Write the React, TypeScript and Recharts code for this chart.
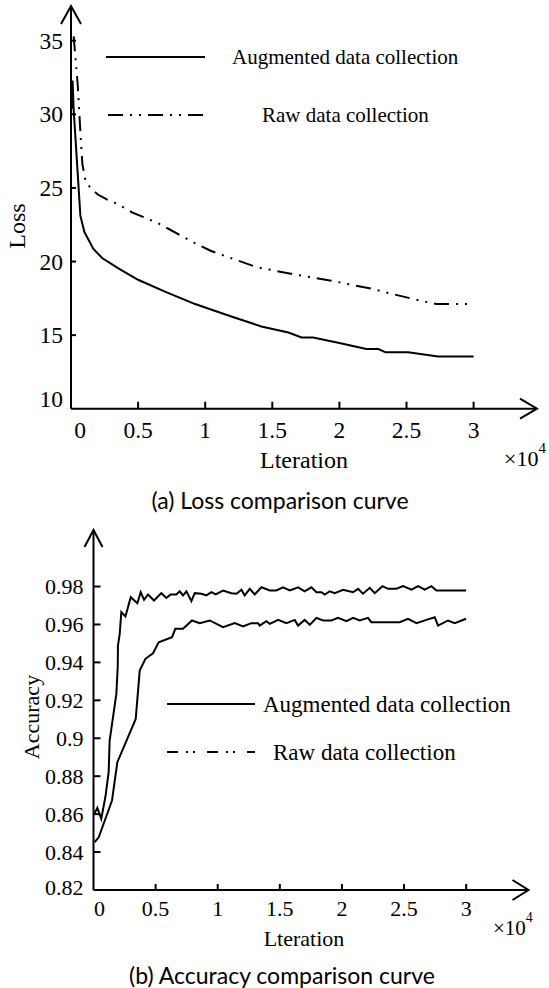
import React from 'react';
import { LineChart, Line, XAxis, YAxis, ReferenceDot } from 'recharts';

// ---------- data ----------
const seriesNames = ['Augmented data collection', 'Raw data collection'];
const xTicks = [0, 0.5, 1, 1.5, 2, 2.5, 3];
const lossTicks = [10, 15, 20, 25, 30, 35];
const accTicks = [0.82, 0.84, 0.86, 0.88, 0.9, 0.92, 0.94, 0.96, 0.98];

// iteration (x10^4), loss
const augmentedLoss: [number, number][] = [
  [0.005, 30.4], [0.012, 32.3], [0.02, 30.3], [0.07, 23.1], [0.1, 22.0], [0.167, 20.85],
  [0.232, 20.24], [0.35, 19.55], [0.5, 18.76], [0.7, 17.95], [0.925, 17.11], [1.0, 16.88],
  [1.2, 16.25], [1.418, 15.59], [1.62, 15.18], [1.718, 14.84], [1.804, 14.84], [2.0, 14.46],
  [2.2, 14.05], [2.291, 14.05], [2.344, 13.83], [2.513, 13.83], [2.735, 13.55], [3.0, 13.55],
];
const rawLoss: [number, number][] = [
  [0.02, 35.3], [0.05, 32.0], [0.075, 28.0], [0.085, 26.6], [0.11, 25.4], [0.155, 24.9],
  [0.2, 24.55], [0.27, 24.2], [0.35, 23.9], [0.454, 23.34], [0.636, 22.66], [0.753, 22.09],
  [0.936, 21.19], [1.04, 20.73], [1.249, 20.05], [1.39, 19.6], [1.588, 19.26], [1.718, 19.04],
  [1.94, 18.7], [2.057, 18.48], [2.252, 18.13], [2.396, 17.79], [2.604, 17.34], [2.722, 17.11],
  [3.0, 17.11],
];

// iteration (x10^4), accuracy
const augmentedAcc: [number, number][] = [
  [0.01, 0.8605], [0.031, 0.8633], [0.0625, 0.8575], [0.0956, 0.869], [0.122, 0.8821],
  [0.13, 0.8988], [0.184, 0.9234], [0.195, 0.9375], [0.197, 0.9489], [0.211, 0.955],
  [0.224, 0.9665], [0.257, 0.9642], [0.3, 0.9744], [0.353, 0.9712], [0.38, 0.977],
  [0.407, 0.973], [0.439, 0.9758], [0.487, 0.9726], [0.546, 0.9765], [0.587, 0.974],
  [0.621, 0.9758], [0.667, 0.9758], [0.694, 0.9775], [0.721, 0.9753], [0.748, 0.9775],
  [0.788, 0.9723], [0.815, 0.9765], [0.869, 0.9762], [0.909, 0.9753], [0.949, 0.977],
  [0.984, 0.9758], [1.043, 0.9779], [1.11, 0.9765], [1.151, 0.9762], [1.191, 0.9783],
  [1.217, 0.9753], [1.258, 0.9788], [1.298, 0.9758], [1.352, 0.9796], [1.419, 0.9779],
  [1.472, 0.9779], [1.526, 0.9796], [1.58, 0.9779], [1.647, 0.9796], [1.7, 0.9775],
  [1.754, 0.9796], [1.795, 0.977], [1.835, 0.977], [1.862, 0.9758], [1.902, 0.9775],
  [1.942, 0.9765], [2.009, 0.9783], [2.089, 0.977], [2.13, 0.9788], [2.17, 0.9762],
  [2.224, 0.9793], [2.264, 0.9765], [2.326, 0.9802], [2.371, 0.9788], [2.439, 0.9788],
  [2.492, 0.9802], [2.56, 0.9784], [2.613, 0.9802], [2.667, 0.9784], [2.72, 0.9802],
  [2.761, 0.9779], [3.0, 0.9779],
];
const rawAcc: [number, number][] = [
  [0.01, 0.8452], [0.042, 0.8478], [0.149, 0.8672], [0.192, 0.8874], [0.34, 0.9102],
  [0.372, 0.9357], [0.418, 0.9419], [0.479, 0.9448], [0.525, 0.9506], [0.632, 0.9533],
  [0.659, 0.9577], [0.721, 0.9577], [0.793, 0.9621], [0.855, 0.9607], [0.936, 0.9621],
  [1.043, 0.9586], [1.137, 0.9607], [1.204, 0.9589], [1.271, 0.9607], [1.325, 0.9607],
  [1.338, 0.9594], [1.392, 0.9617], [1.419, 0.9603], [1.486, 0.9624], [1.553, 0.9607],
  [1.62, 0.9624], [1.647, 0.9594], [1.7, 0.9624], [1.741, 0.9598], [1.795, 0.9635],
  [1.848, 0.9621], [1.915, 0.9621], [1.969, 0.9635], [2.036, 0.9617], [2.09, 0.9635],
  [2.143, 0.9621], [2.21, 0.9635], [2.237, 0.9612], [2.465, 0.9612], [2.532, 0.963],
  [2.6, 0.9607], [2.68, 0.9624], [2.747, 0.9638], [2.774, 0.9594], [2.854, 0.9621],
  [2.908, 0.9607], [3.0, 0.963],
];

// ---------- helpers ----------
const toRows = (arr: [number, number][]) => arr.map(([x, y]) => ({ x, y }));
const SERIF = '"Liberation Serif", "Times New Roman", serif';
const SANS = 'Lato, "Open Sans", sans-serif';
const RAW_DASH = '15 7 2 7 2 7';

const makeXTick = (len: number, labelDy: number, zeroDx: number, fs: number) => (props: any) => {
  const { x, y, payload } = props;
  const v = payload.value;
  return (
    <g>
      {v !== 0 && <line x1={x} y1={y} x2={x} y2={y - len} stroke="#000" strokeWidth={2} />}
      <text x={x + (v === 0 ? zeroDx : 0)} y={y + labelDy} textAnchor="middle" dominantBaseline="central"
        fontFamily={SERIF} fontSize={fs} fill="#000">{String(v)}</text>
    </g>
  );
};
const makeYTick = (len: number, gap: number, minVal: number, minDy: number, fs: number) => (props: any) => {
  const { x, y, payload } = props;
  const v = payload.value;
  return (
    <g>
      {v !== minVal && <line x1={x} y1={y} x2={x + len} y2={y} stroke="#000" strokeWidth={2} />}
      <text x={x - gap} y={y + (v === minVal ? minDy : 0)} textAnchor="end" dominantBaseline="central"
        fontFamily={SERIF} fontSize={fs} fill="#000">{String(v)}</text>
    </g>
  );
};
const arrowRight = (dx: number, dy: number) => (p: any) => (
  <polyline points={`${p.cx - dx},${p.cy - dy} ${p.cx},${p.cy} ${p.cx - dx},${p.cy + dy}`} fill="none" stroke="#000" strokeWidth={2} />
);
const arrowUp = (dx: number, dy: number) => (p: any) => (
  <polyline points={`${p.cx - dx},${p.cy + dy} ${p.cx},${p.cy} ${p.cx + dx},${p.cy + dy}`} fill="none" stroke="#000" strokeWidth={2} />
);

const LOSS_X_MAX = 3.4724;
const LOSS_Y_MAX = 37.36;
const ACC_X_MAX = 3.502;
const ACC_Y_MAX = 1.0098;

export default function App() {
  return (
    <div style={{ position: 'absolute', left: 0, top: 0, width: 549, height: 988, background: '#fff' }}>
      <div style={{ position: 'absolute', left: 0, top: 0 }}>
        <LineChart width={549} height={480} margin={{ top: 6, right: 12, bottom: 70.3, left: 70 }}>
          <XAxis type="number" dataKey="x" domain={[0, LOSS_X_MAX]} ticks={xTicks} height={1}
            axisLine={{ stroke: '#000', strokeWidth: 2 }} tickLine={false} tickSize={0} tickMargin={0}
            tick={makeXTick(7, 21.3, 9, 23.5)} allowDataOverflow interval={0} />
          <YAxis type="number" domain={[10, LOSS_Y_MAX]} ticks={lossTicks} width={1}
            axisLine={{ stroke: '#000', strokeWidth: 2 }} tickLine={false} tickSize={0} tickMargin={0}
            tick={makeYTick(5, 8, 10, -10, 23.5)} allowDataOverflow interval={0} />
          <Line data={toRows(augmentedLoss)} dataKey="y" name={seriesNames[0]} stroke="#000" strokeWidth={2}
            dot={false} isAnimationActive={false} />
          <Line data={toRows(rawLoss)} dataKey="y" name={seriesNames[1]} stroke="#000" strokeWidth={2}
            strokeDasharray={RAW_DASH} dot={false} isAnimationActive={false} />
          <ReferenceDot x={LOSS_X_MAX} y={10} r={0} ifOverflow="visible" shape={arrowRight(17, 10)} />
          <ReferenceDot x={0} y={LOSS_Y_MAX} r={0} ifOverflow="visible" shape={arrowUp(10, 18)} />
        </LineChart>
      </div>
      <div style={{ position: 'absolute', left: 0, top: 490 }}>
        <LineChart width={549} height={498} margin={{ top: 40, right: 20.5, bottom: 97, left: 92.5 }}>
          <XAxis type="number" dataKey="x" domain={[0, ACC_X_MAX]} ticks={xTicks} height={1}
            axisLine={{ stroke: '#000', strokeWidth: 2 }} tickLine={false} tickSize={0} tickMargin={0}
            tick={makeXTick(6, 18, 6, 22)} allowDataOverflow interval={0} />
          <YAxis type="number" domain={[0.82, ACC_Y_MAX]} ticks={accTicks} width={1}
            axisLine={{ stroke: '#000', strokeWidth: 2 }} tickLine={false} tickSize={0} tickMargin={0}
            tick={makeYTick(7, 10, 0.82, -3, 22)} allowDataOverflow interval={0} />
          <Line data={toRows(augmentedAcc)} dataKey="y" name={seriesNames[0]} stroke="#000" strokeWidth={2}
            dot={false} isAnimationActive={false} />
          <Line data={toRows(rawAcc)} dataKey="y" name={seriesNames[1]} stroke="#000" strokeWidth={2}
            dot={false} isAnimationActive={false} />
          <ReferenceDot x={ACC_X_MAX} y={0.82} r={0} ifOverflow="visible" shape={arrowRight(16, 10)} />
          <ReferenceDot x={0} y={ACC_Y_MAX} r={0} ifOverflow="visible" shape={arrowUp(9, 17)} />
        </LineChart>
      </div>
      <svg width={549} height={988} style={{ position: 'absolute', left: 0, top: 0, pointerEvents: 'none' }}>
        {/* top chart annotations */}
        <text transform="translate(17,226) rotate(-90)" textAnchor="middle" dominantBaseline="central"
          fontFamily={SERIF} fontSize={24}>Loss</text>
        <text x={304} y={460} textAnchor="middle" dominantBaseline="central" fontFamily={SERIF} fontSize={24}>Lteration</text>
        <text x={504} y={466} fontFamily={SERIF} fontSize={22}>×10<tspan dy={-13} fontSize={15}>4</tspan></text>
        <line x1={106} y1={57} x2={205} y2={57} stroke="#000" strokeWidth={2} />
        <text x={232} y={57} dominantBaseline="central" fontFamily={SERIF} fontSize={21}>{seriesNames[0]}</text>
        <line x1={108} y1={115} x2={205} y2={115} stroke="#000" strokeWidth={2} strokeDasharray={RAW_DASH} />
        <text x={262} y={115} dominantBaseline="central" fontFamily={SERIF} fontSize={21}>{seriesNames[1]}</text>
        <text x={280} y={500} textAnchor="middle" dominantBaseline="central" fontFamily={SANS} fontSize={23}>(a) Loss comparison curve</text>
        {/* bottom chart annotations */}
        <text transform="translate(31,717) rotate(-90)" textAnchor="middle" dominantBaseline="central"
          fontFamily={SERIF} fontSize={22}>Accuracy</text>
        <text x={304} y={938} textAnchor="middle" dominantBaseline="central" fontFamily={SERIF} fontSize={22}>Lteration</text>
        <text x={493} y={935} fontFamily={SERIF} fontSize={21}>×10<tspan dy={-13} fontSize={14}>4</tspan></text>
        <line x1={167} y1={704} x2={255} y2={704} stroke="#000" strokeWidth={2} />
        <text x={263} y={704} dominantBaseline="central" fontFamily={SERIF} fontSize={23}>{seriesNames[0]}</text>
        <line x1={167} y1={752} x2={255} y2={752} stroke="#000" strokeWidth={2} strokeDasharray="11 8 2 5 2 12" />
        <text x={273} y={752} dominantBaseline="central" fontFamily={SERIF} fontSize={23}>{seriesNames[1]}</text>
        <text x={282} y={975} textAnchor="middle" dominantBaseline="central" fontFamily={SANS} fontSize={23}>(b) Accuracy comparison curve</text>
      </svg>
    </div>
  );
}
